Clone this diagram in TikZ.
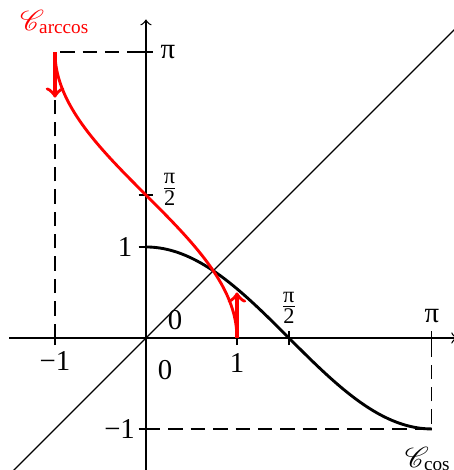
\documentclass[tikz,border=0pt]{standalone}
\usepackage{amsmath}
\usepackage{mathrsfs}
\usepackage{fontspec}
\setmainfont{Liberation Serif}
\definecolor{arcred}{HTML}{FF0000}

\begin{document}
\begin{tikzpicture}[
  x=1cm,
  y=1cm,
  line join=round,
  axis/.style={draw=black,line width=0.4pt,->},
  tickmark/.style={draw=black,line width=0.4pt},
  guide/.style={draw=black,line width=0.4pt,dash pattern=on 4.5pt off 2.5pt},
  coscurve/.style={draw=black,line width=0.9pt},
  acoscurve/.style={draw=arcred,line width=0.9pt},
  tangent/.style={draw=arcred,line width=1.1pt,->},
  lbl/.style={font=\small,inner sep=0pt}
]
  % Match the artwork frame.
  \useasboundingbox (-1.604,-1.451) rectangle (3.385,3.714);

  % Axes ends, diagonal ends and the corners of the dashed guides.
  \coordinate (O) at (0,0);
  \coordinate (xmin) at (-1.5,0);
  \coordinate (xmax) at (3.42,0);
  \coordinate (ymin) at (0,-1.5);
  \coordinate (ymax) at (0,3.5);
  \coordinate (dlo) at (-1.6,-1.6);
  \coordinate (dhi) at (3.6,3.6);
  \coordinate (acostop) at (-1,pi);
  \coordinate (acosfoot) at (-1,0);
  \coordinate (ypi) at (0,pi);
  \coordinate (cosbot) at (pi,-1);
  \coordinate (xpi) at (pi,0);
  \coordinate (ymone) at (0,-1);
  \coordinate (acosend) at (1,0);
  \coordinate (acosdown) at (-1,pi-0.5);
  \coordinate (acosup) at (1,0.5);

  % Dashed guides to the end points of both curves.
  \draw[guide] (acosfoot) -- (acostop) -- (ypi);
  \draw[guide] (ymone) -- (cosbot) -- (xpi);

  % Axes and the first bisector.
  \draw[axis] (xmin) -- (xmax);
  \draw[axis] (ymin) -- (ymax);
  \draw[line width=0.4pt] (dlo) -- (dhi);

  % Ticks on both axes.
  \foreach \t in {-1,1,pi/2,pi} {
    \draw[tickmark] (\t,-0.08) -- (\t,0.08);
  }
  \foreach \t in {-1,1,pi/2,pi} {
    \draw[tickmark] (-0.08,\t) -- (0.08,\t);
  }

  % The two curves, symmetric about y=x.
  \draw[coscurve] plot[domain=0:pi,samples=80] (\x,{cos(\x r)});
  \draw[acoscurve] plot[domain=0:pi,samples=80] ({cos(\x r)},\x);

  % Vertical tangents at the ends of arccos.
  \draw[tangent] (acostop) -- (acosdown);
  \draw[tangent] (acosend) -- (acosup);

  % Axis labels.
  \node[lbl] (ypilbl) at (0.24,pi) {π};
  \node[lbl] (yhalflbl) at (0.26,1.63) {$\frac{\mbox{\scriptsize π}}{\mbox{\scriptsize 2}}$};
  \node[lbl] (yonelbl) at (-0.23,1) {1};
  \node[lbl] (ymonelbl) at (-0.29,-1) {−1};
  \node[lbl] (xmonelbl) at (-1,-0.25) {−1};
  \node[lbl] (xonelbl) at (1,-0.27) {1};
  \node[lbl] (xhalflbl) at (pi/2,0.33) {$\frac{\mbox{\scriptsize π}}{\mbox{\scriptsize 2}}$};
  \node[lbl] (xpilbl) at (pi,0.24) {π};
  \node[lbl] (xzerolbl) at (0.32,0.2) {0};
  \node[lbl] (yzerolbl) at (0.21,-0.35) {0};

  % Curve names.
  \node[lbl,text=arcred] (acosname) at (-1,3.47) {$\mathscr{C}_{\text{arccos}}$};
  \node[lbl] (cosname) at (3.10,-1.33) {$\mathscr{C}_{\text{cos}}$};
\end{tikzpicture}
\end{document}
